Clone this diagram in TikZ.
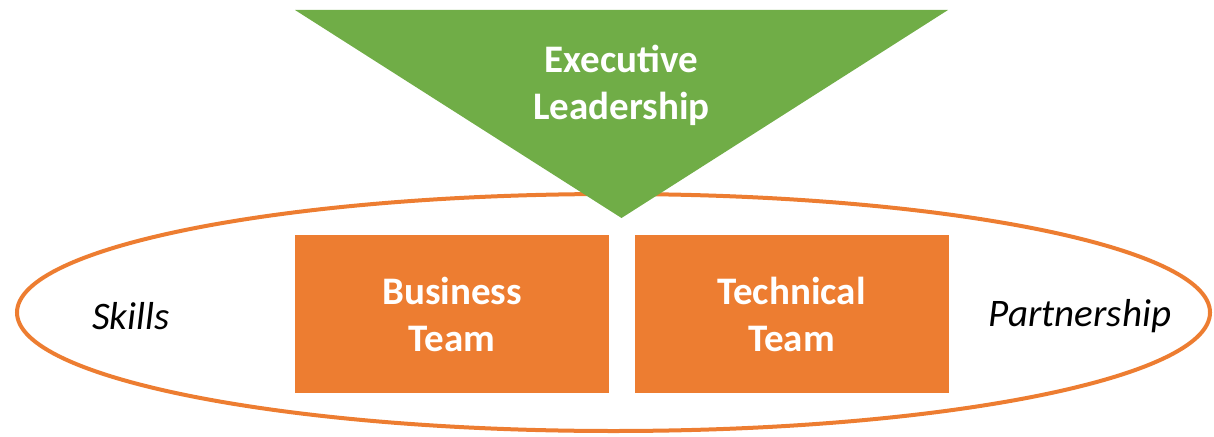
\documentclass[tikz,border=0pt]{standalone}
\usepackage{fontspec}
\setmainfont{Carlito}
\usetikzlibrary{shapes.geometric}
\definecolor{orng}{HTML}{ED7D31}
\definecolor{grn}{HTML}{70AD47}
\tikzset{
  team/.style={fill=orng, draw=none, minimum width=314pt, minimum height=158pt, inner sep=0pt,
    text=white, font=\fontsize{39}{47}\selectfont\bfseries, align=center},
  side/.style={font=\fontsize{39}{47}\selectfont\itshape, text=black},
}
\begin{document}
\begin{tikzpicture}[x=1pt,y=-1pt]
\useasboundingbox (0,0) rectangle (1214,436);
\node[ellipse, draw=orng, line width=4pt, minimum width=1193pt, minimum height=237pt, inner sep=0pt] (ring) at (613.5,312.5) {};
\fill[grn] (295,10) -- (948,10) -- (621.5,218) -- cycle;
\node[text=white, font=\fontsize{39}{47}\selectfont\bfseries, align=center] (exec) at (621.5,85) {Executive\\Leadership};
\node[team] (biz) at (452,314) {Business\\Team};
\node[team] (tech) at (791.5,314) {Technical\\Team};
\node[side] (skills) at (131,316) {Skills};
\node[side] (partner) at (1080,316) {Partnership};
\end{tikzpicture}
\end{document}
